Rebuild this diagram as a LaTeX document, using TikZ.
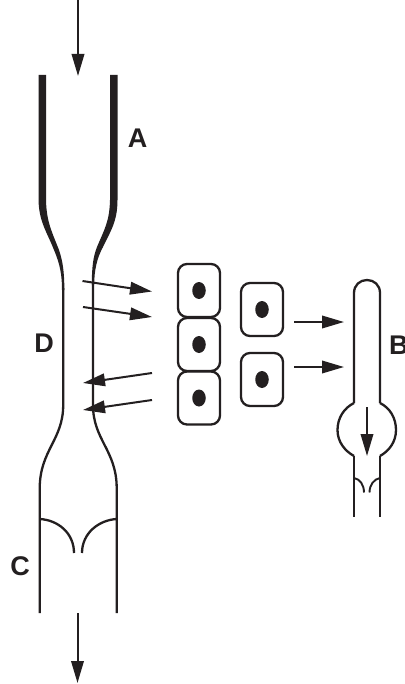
\documentclass[tikz,border=0pt]{standalone}
\usepackage{fontspec}
\setmainfont{Liberation Sans}
\usetikzlibrary{arrows.meta,shapes.geometric}
\definecolor{ink}{HTML}{231F20}
\tikzset{
  wall/.style={draw=ink,line width=2.3pt,line cap=butt},
  taper/.style={fill=ink,draw=none},
  cell/.style={draw=ink,line width=2.3pt,rounded corners=9pt,minimum width=42pt,minimum height=53pt,inner sep=0pt},
  nucleus/.style={fill=ink,draw=none,ellipse,minimum width=13.5pt,minimum height=17pt,inner sep=0pt},
  flow/.style={draw=ink,line width=2pt,-{Triangle[length=22pt,width=12.5pt,fill=ink]}},
  lab/.style={font=\bfseries\fontsize{27}{27}\selectfont,text=ink,inner sep=0pt},
}
\begin{document}
\begin{tikzpicture}[x=1pt,y=-1pt]
\useasboundingbox[fill=white] (0,0) rectangle (404,684);
% thick tapered walls of the duct
\fill[taper] (38.5,75) -- (38.5,200) .. controls (39,222) and (47,232) .. (54,250) .. controls (60,264) and (62,275) .. (62,290)
  -- (64.4,290) .. controls (64.2,272) and (63,262) .. (59,250) .. controls (52,232) and (46.5,222) .. (46,200) -- (46,75) -- cycle;
\fill[taper] (110,75) -- (110,200) .. controls (109.5,222) and (104,230) .. (97,247) .. controls (93,257) and (91.8,268) .. (91.8,285)
  -- (94.2,285) .. controls (94.2,270) and (97,258) .. (103,247) .. controls (110,232) and (117.5,222) .. (117.5,200) -- (117.5,75) -- cycle;
% thin walls
\draw[wall] (63.2,288) -- (63.2,405) .. controls (63.2,440) and (40,450) .. (39.7,488) -- (39.7,613);
\draw[wall] (93,283) -- (93,405) .. controls (93,440) and (116.5,450) .. (116.7,488) -- (116.7,613);
% valves C
\coordinate (cvl) at (39.7,519);
\coordinate (cvr) at (116.7,519);
\coordinate (cml) at (74,553);
\coordinate (cmr) at (82,553);
\draw[wall] (cvl) .. controls (58,520) and (74,533) .. (cml);
\draw[wall] (cvr) .. controls (99,520) and (82,533) .. (cmr);
% cells
\node[cell] (c1) at (199,290.5) {};
\node[cell] (c2) at (199,344.5) {};
\node[cell] (c3) at (199,398) {};
\node[cell] (c4) at (262,309.5) {};
\node[cell] (c5) at (262,379.5) {};
\foreach \c in {1,...,5} \node[nucleus] (n\c) at (c\c) {};
% E tube
\draw[wall] (354,403) -- (354,293) .. controls (354,285) and (360,280) .. (367,280) .. controls (374,280) and (380,285) .. (380,293) -- (380,403);
\draw[wall] (354,403) .. controls (344,408) and (337.5,418) .. (337.5,430) .. controls (337.5,442) and (345,451) .. (354,456);
\draw[wall] (380,403) .. controls (390,408) and (396,418) .. (396,430) .. controls (396,442) and (389,451) .. (380,456);
\draw[wall] (354,456) -- (354,517);
\draw[wall] (380,456) -- (380,517);
\coordinate (evl) at (354,478);
\coordinate (evr) at (380,478);
\coordinate (eml) at (364,492.5);
\coordinate (emr) at (369.5,492.5);
\draw[wall,line width=1.9pt] (evl) .. controls (360,479) and (364,485) .. (eml);
\draw[wall,line width=1.9pt] (evr) .. controls (374,479) and (369.5,485) .. (emr);
% flow arrows
\coordinate (t1) at (78,0); \coordinate (t2) at (78,76);
\coordinate (b1) at (77.5,613); \coordinate (b2) at (77.5,683);
\draw[flow] (t1) -- (t2);
\draw[flow] (b1) -- (b2);
\coordinate (a1) at (82.5,281); \coordinate (a2) at (152,291.5);
\coordinate (a3) at (83,307); \coordinate (a4) at (152,317);
\coordinate (a5) at (152,373); \coordinate (a6) at (83,383);
\coordinate (a7) at (152,400); \coordinate (a8) at (83,410);
\draw[flow] (a1) -- (a2);
\draw[flow] (a3) -- (a4);
\draw[flow] (a5) -- (a6);
\draw[flow] (a7) -- (a8);
\coordinate (e1) at (294,322); \coordinate (e2) at (344,322);
\coordinate (e3) at (294,367); \coordinate (e4) at (344,367);
\draw[flow] (e1) -- (e2);
\draw[flow] (e3) -- (e4);
\coordinate (d1) at (367,407); \coordinate (d2) at (367,456);
\draw[flow] (d1) -- (d2);
% labels
\node[lab] (la) at (137.5,138.5) {A};
\node[lab] (ld) at (44,343.5) {D};
\node[lab,anchor=west] (lb) at (389,345.5) {B};
\node[lab] (lc) at (20,566.5) {C};
\end{tikzpicture}
\end{document}
